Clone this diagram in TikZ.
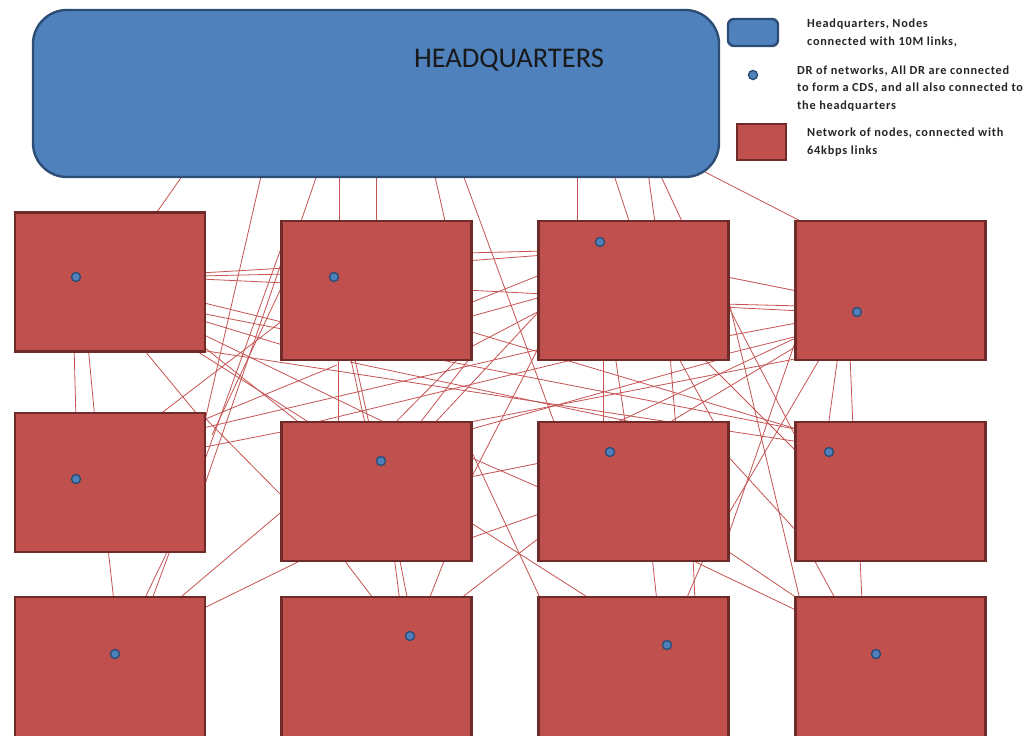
\documentclass[tikz,border=0pt]{standalone}
\usepackage{fontspec}
\setmainfont{Carlito}
\newfontfamily\legfont[LetterSpace=6]{Carlito}
\definecolor{netred}{HTML}{C0504D}
\definecolor{netedge}{HTML}{6E2B29}
\definecolor{hqblue}{HTML}{4F81BD}
\definecolor{hqedge}{HTML}{2C4D75}
\definecolor{linkred}{HTML}{C55452}
\tikzset{
  netbox/.style={draw=netedge, fill=netred, line width=2.4pt, minimum width=190pt, minimum height=139pt, inner sep=0pt},
  hqbox/.style={draw=hqedge, fill=hqblue, line width=2.4pt, rounded corners=34pt, inner sep=0pt},
  drdot/.style={circle, draw=hqedge, fill=hqblue, line width=1.4pt, minimum size=9pt, inner sep=0pt},
  link/.style={draw=linkred, line width=0.8pt},
  legtext/.style={anchor=north west, align=left, inner sep=0pt, font=\legfont\fontsize{12.3}{17.5}\selectfont\bfseries, text=black!85}
}
\begin{document}
\begin{tikzpicture}[x=1pt,y=-1pt]
\clip (0,0) rectangle (1034,736);
\fill[white] (0,0) rectangle (1034,736);
% links (drawn behind the boxes)
\foreach \a/\b/\c/\d in {
185/172/150/222, 262/172/204/425, 318/172/298/230, 339/172/339/230, 376/172/376/230,
434/172/447/230, 462/172/557/430, 577/172/577/230, 613/172/632/230, 648/172/656/230,
659/172/686/230, 705/172/818/230,
200/273/286/268, 200/276/286/274, 200/279/286/283, 200/302/286/323, 200/320/286/346,
200/333/390/425, 195/350/318/428, 195/340/306/428, 286/318/155/418, 337/365/203/420,
284/282/212/435, 203/490/284/255, 203/465/284/240,
200/448/286/431, 205/418/286/500, 286/508/175/602, 310/556/200/610, 203/428/545/348,
74/345/76/420, 88/345/95/420, 140/345/202/420,
338/355/338/428, 350/355/366/428, 354/355/370/428, 462/355/390/428, 470/358/416/428,
350/362/660/428, 465/330/800/430, 465/318/545/296, 465/253/545/251, 465/261/545/255,
465/290/545/294, 465/305/545/273, 465/350/545/308, 545/305/430/428, 545/335/465/490,
460/424/800/358, 200/350/800/442, 200/313/800/430, 580/358/300/426, 468/430/725/358,
722/276/802/292, 722/304/802/306, 722/307/802/311, 722/337/802/322, 722/355/802/335,
802/335/605/428, 802/343/660/428, 725/285/800/600, 725/300/800/445, 800/328/725/545,
822/355/725/520, 838/355/828/428, 850/355/853/428,
603/355/603/428, 615/355/626/428, 670/355/676/428, 677/355/717/428, 700/355/800/455,
465/478/545/462, 465/455/545/490, 465/540/545/512,
108/548/114/602, 169/548/143/602, 171/548/151/602, 341/556/376/602, 394/556/400/602,
399/556/408/602, 446/556/428/602, 552/528/456/602, 468/521/592/600, 468/444/542/602,
652/556/657/602, 693/556/695/602, 705/556/685/602, 683/556/800/612, 723/548/800/600,
724/452/800/535, 812/556/837/602, 860/556/862/602}
  \draw[link] (\a,\b) -- (\c,\d);
% headquarters
\node[hqbox, minimum width=686pt, minimum height=167pt] (hq) at (376,93.5) {};
\node[font=\fontsize{28.5}{30}\selectfont, anchor=base, text=black!90] (hqt) at (509,67) {HEADQUARTERS};
% networks
\node[netbox] (A1) at (110,282) {};
\node[netbox] (A2) at (376.5,290.5) {};
\node[netbox] (A3) at (633.5,290.5) {};
\node[netbox] (A4) at (890.5,290.5) {};
\node[netbox] (B1) at (110,482.5) {};
\node[netbox] (B2) at (376.5,491.5) {};
\node[netbox] (B3) at (633.5,491.5) {};
\node[netbox] (B4) at (890.5,491.5) {};
\node[netbox, minimum height=170pt] (C1) at (110,682) {};
\node[netbox, minimum height=170pt] (C2) at (376.5,682) {};
\node[netbox, minimum height=170pt] (C3) at (633.5,682) {};
\node[netbox, minimum height=170pt] (C4) at (890.5,682) {};
% DRs
\node[drdot] (dA1) at (76,277) {};
\node[drdot] (dA2) at (334,277) {};
\node[drdot] (dA3) at (600,242) {};
\node[drdot] (dA4) at (857,312) {};
\node[drdot] (dB1) at (76,479) {};
\node[drdot] (dB2) at (381,461) {};
\node[drdot] (dB3) at (610,452) {};
\node[drdot] (dB4) at (829,452) {};
\node[drdot] (dC1) at (115,654) {};
\node[drdot] (dC2) at (410,636) {};
\node[drdot] (dC3) at (667,645) {};
\node[drdot] (dC4) at (876,654) {};
% legend
\node[hqbox, rounded corners=6pt, minimum width=50pt, minimum height=27pt] (lgHQ) at (753,32.5) {};
\node[drdot] (lgDR) at (753,75) {};
\node[netbox, minimum width=49pt, minimum height=36pt] (lgNet) at (761.5,142) {};
\node[legtext] (lt1) at (807,19) {Headquarters, Nodes\\connected with 10M links,};
\node[legtext] (lt2) at (797,65.5) {DR of networks, All DR are connected\\to form a CDS, and all also connected to\\the headquarters};
\node[legtext] (lt3) at (807,128) {Network of nodes, connected with\\64kbps links};
\end{tikzpicture}
\end{document}
